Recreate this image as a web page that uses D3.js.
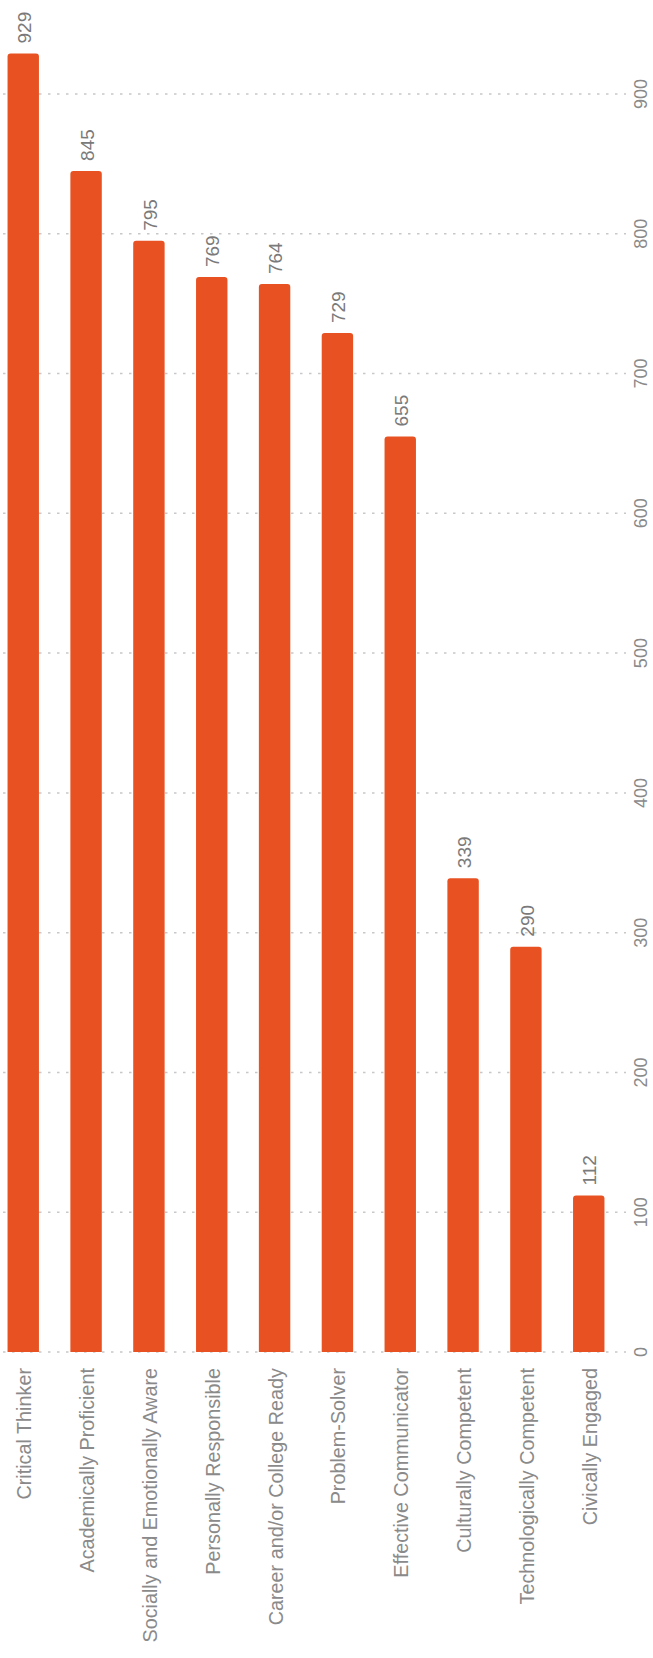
<!DOCTYPE html>
<html>
<head>
<meta charset="utf-8">
<script src="https://cdn.jsdelivr.net/npm/d3@7"></script>
<style>
    body { margin: 0; background: #fff; }
    text { font-family: "Liberation Sans", Arial, sans-serif; }
</style>
</head>
<body>
<div id="chart"></div>
<script>
const categories = [
    "Critical Thinker",
    "Academically Proficient",
    "Socially and Emotionally Aware",
    "Personally Responsible",
    "Career and/or College Ready",
    "Problem-Solver",
    "Effective Communicator",
    "Culturally Competent",
    "Technologically Competent",
    "Civically Engaged"
];
const values = [929, 845, 795, 769, 764, 729, 655, 339, 290, 112];
const tickValues = [0, 100, 200, 300, 400, 500, 600, 700, 800, 900];

const width = 653,
    height = 1658;
const baseY = 1352,
    topY = 94;

const svg = d3.select("#chart")
    .append("svg")
    .attr("width", width)
    .attr("height", height);

const x = d3.scaleBand()
    .domain(categories)
    .range([0, 612])
    .paddingInner(0.5)
    .paddingOuter(0.12);

const y = d3.scaleLinear()
    .domain([0, 900])
    .range([baseY, topY]);

// dotted gridlines, behind the bars
svg.append("g")
    .selectAll("line")
    .data(tickValues)
    .join("line")
    .attr("x1", 3)
    .attr("x2", 626)
    .attr("y1", d => y(d))
    .attr("y2", d => y(d))
    .attr("stroke", "#c8c8c8")
    .attr("stroke-width", 1.5)
    .attr("stroke-dasharray", "2.5,6.5");

// value axis on the right, labels turned
svg.append("g")
    .selectAll("text")
    .data(tickValues)
    .join("text")
    .attr("transform", d => `translate(641, ${y(d)}) rotate(-90)`)
    .attr("text-anchor", "middle")
    .attr("dy", "0.35em")
    .attr("fill", "#8a8a8a")
    .style("font-size", "18px")
    .text(d => d);

// bars with rounded top corners
const r = 3;
svg.append("g")
    .selectAll("path")
    .data(values)
    .join("path")
    .attr("fill", "#e85222")
    .attr("d", (d, i) => {
        const x0 = x(categories[i]),
            w = x.bandwidth(),
            y0 = y(d);
        return `M${x0},${baseY} V${y0 + r} Q${x0},${y0} ${x0 + r},${y0} H${x0 + w - r} Q${x0 + w},${y0} ${x0 + w},${y0 + r} V${baseY} Z`;
    });

// value labels above bars
svg.append("g")
    .selectAll("text")
    .data(values)
    .join("text")
    .attr("transform", (d, i) => `translate(${x(categories[i]) + x.bandwidth() / 2 + 1}, ${y(d) - 10}) rotate(-90)`)
    .attr("text-anchor", "start")
    .attr("dy", "0.35em")
    .attr("fill", "#7a7a7a")
    .style("font-size", "19px")
    .text(d => d);

// category labels under the baseline
svg.append("g")
    .selectAll("text")
    .data(categories)
    .join("text")
    .attr("transform", d => `translate(${x(d) + x.bandwidth() / 2 + 1}, ${baseY + 16}) rotate(-90)`)
    .attr("text-anchor", "end")
    .attr("dy", "0.35em")
    .attr("fill", "#8a8a8a")
    .style("font-size", "19.8px")
    .text(d => d);
</script>
</body>
</html>
